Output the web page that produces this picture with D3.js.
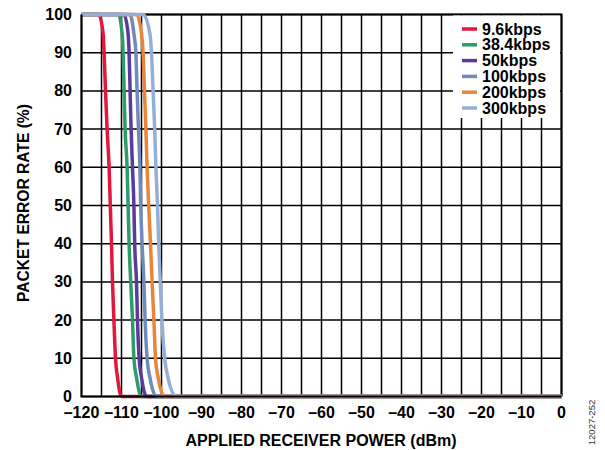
<!DOCTYPE html>
<html>
<head>
<meta charset="utf-8">
<script src="https://cdn.jsdelivr.net/npm/d3@7"></script>
<style>
    body { margin: 0; background: #fff; }
    svg text { font-family: Arial, "Liberation Sans", Helvetica, sans-serif; }
</style>
</head>
<body>
<div id="chart"></div>
<script>
// packet error rate levels (%) at which each curve was read
const perLevels = [100, 95, 90, 80, 70, 60, 50, 40, 30, 20, 10, 5, 0];

// receiver power (dBm) at each level above
const series = [
    { name: "9.6kbps",  color: "#e3173e", power: [-115.7, -114.6, -114.35, -114, -113.6, -113.1, -112.8, -112.5, -112.25, -111.9, -111.5, -111, -110] },
    { name: "38.4kbps", color: "#2e9c6a", power: [-110.8, -109.85, -109.6, -109.35, -109.1, -108.6, -108.35, -108.1, -107.7, -107.25, -106.9, -106.25, -105] },
    { name: "50kbps",   color: "#5a3b9b", power: [-109.4, -108.35, -108.1, -107.85, -107.6, -107.25, -106.9, -106.7, -106.25, -106, -105.6, -105, -103.75] },
    { name: "100kbps",  color: "#6f8bbd", power: [-107.9, -106.9, -106.4, -106.1, -105.75, -105.4, -105.2, -104.85, -104.4, -104.1, -103.6, -102.9, -101.25] },
    { name: "200kbps",  color: "#e8853b", power: [-106.25, -105, -104.6, -104.25, -103.9, -103.6, -103.2, -102.75, -102.35, -101.9, -101.5, -100.85, -99.2] },
    { name: "300kbps",  color: "#93afd8", power: [-104.6, -102.9, -102.5, -102.1, -101.7, -101.4, -101, -100.7, -100.3, -99.9, -99.2, -98.4, -96.3] }
];

const xTicks = [-120, -110, -100, -90, -80, -70, -60, -50, -40, -30, -20, -10, 0];
const xGrid = d3.range(-120, 1, 5);
const yTicks = [0, 10, 20, 30, 40, 50, 60, 70, 80, 90, 100];

const width = 605, height = 450;
const plot = { left: 81.5, right: 561.5, top: 14.5, bottom: 396.5 };

const svg = d3.select("#chart").append("svg")
    .attr("width", width)
    .attr("height", height);

const x = d3.scaleLinear().domain([-120, 0]).range([plot.left, plot.right]);
const y = d3.scaleLinear().domain([0, 100]).range([plot.bottom, plot.top]);

const fmt = d => d < 0 ? "\u2013" + Math.abs(d) : String(d);

// gridlines
svg.append("g")
    .selectAll("line")
    .data(xGrid)
    .join("line")
    .attr("x1", d => x(d)).attr("x2", d => x(d))
    .attr("y1", plot.top).attr("y2", plot.bottom)
    .attr("stroke", "#000").attr("stroke-width", 1.5);

svg.append("g")
    .selectAll("line")
    .data(yTicks)
    .join("line")
    .attr("x1", plot.left).attr("x2", plot.right)
    .attr("y1", d => y(d)).attr("y2", d => y(d))
    .attr("stroke", "#000").attr("stroke-width", 1.5);

// top and right border (curves sit over the top one)
svg.append("path")
    .attr("d", `M${plot.left},${plot.top}H${plot.right}V${plot.bottom}`)
    .attr("fill", "none").attr("stroke", "#000").attr("stroke-width", 2);

// legend box hides gridlines
const legendX = 453, legendY = 15.5;
svg.append("rect")
    .attr("x", legendX).attr("y", legendY)
    .attr("width", 107).attr("height", 102.5)
    .attr("fill", "#fff");

// curves
const line = d3.line()
    .x(d => x(d[0]))
    .y(d => y(d[1]))
    .curve(d3.curveMonotoneX);

series.forEach(s => {
    const pts = [[-120, 100]];
    s.power.forEach((p, i) => pts.push([p, perLevels[i]]));
    pts.push([0, 0]);
    svg.append("path")
        .datum(pts)
        .attr("d", line)
        .attr("fill", "none")
        .attr("stroke", s.color)
        .attr("stroke-width", 3.5)
        .attr("stroke-linejoin", "round");
});

// left and bottom axis lines
svg.append("path")
    .attr("d", `M${plot.left},${plot.top}V${plot.bottom}H${plot.right}`)
    .attr("fill", "none").attr("stroke", "#000").attr("stroke-width", 2);

// tick labels
svg.append("g")
    .selectAll("text")
    .data(yTicks)
    .join("text")
    .attr("x", 72)
    .attr("y", d => y(d) + 5.5)
    .attr("text-anchor", "end")
    .attr("font-size", 16).attr("font-weight", "bold")
    .text(fmt);

svg.append("g")
    .selectAll("text")
    .data(xTicks)
    .join("text")
    .attr("x", d => x(d))
    .attr("y", 418)
    .attr("text-anchor", "middle")
    .attr("font-size", 16).attr("font-weight", "bold")
    .text(fmt);

// axis titles
svg.append("text")
    .attr("x", 321).attr("y", 445.5)
    .attr("text-anchor", "middle")
    .attr("font-size", 16).attr("font-weight", "bold")
    .text("APPLIED RECEIVER POWER (dBm)");

svg.append("text")
    .attr("transform", "translate(28.5,203) rotate(-90)")
    .attr("text-anchor", "middle")
    .attr("font-size", 15.6).attr("font-weight", "bold")
    .text("PACKET ERROR RATE (%)");

// figure id
svg.append("text")
    .attr("transform", "translate(595,422.5) rotate(-90)")
    .attr("text-anchor", "middle")
    .attr("font-size", 9.5)
    .attr("fill", "#333")
    .text("12027-252");

// legend
const legend = svg.append("g");
series.forEach((s, i) => {
    const cy = 29 + i * 15.8;
    legend.append("line")
        .attr("x1", 462).attr("x2", 477)
        .attr("y1", cy).attr("y2", cy)
        .attr("stroke", s.color).attr("stroke-width", 3.5);
    legend.append("text")
        .attr("x", 482).attr("y", cy + 5.5)
        .attr("font-size", 16).attr("font-weight", "bold")
        .text(s.name);
});
</script>
</body>
</html>
